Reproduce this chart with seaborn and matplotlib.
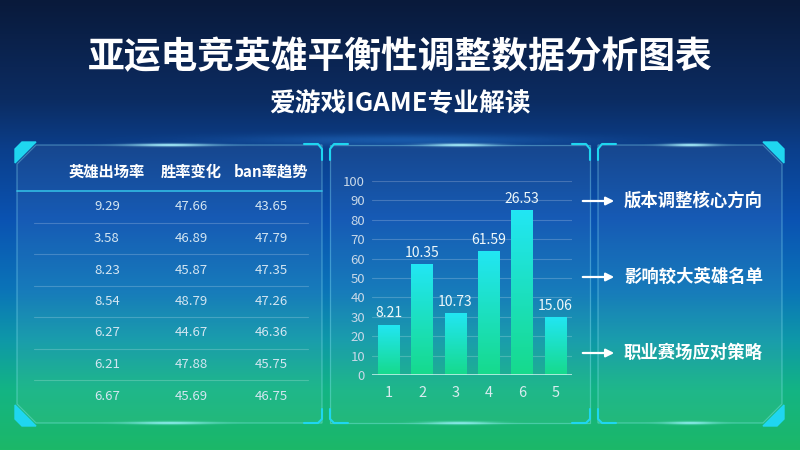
import numpy as np
import matplotlib
matplotlib.use('Agg')
import matplotlib.pyplot as plt
import matplotlib.colors as mcolors
from matplotlib.patches import Polygon
import seaborn as sns

# ---- data ----
title = '亚运电竞英雄平衡性调整数据分析图表'
subtitle = '爱游戏IGAME专业解读'

col_names = ['英雄出场率', '胜率变化', 'ban率趋势']
appear_rate = [9.29, 3.58, 8.23, 8.54, 6.27, 6.21, 6.67]
win_change = [47.66, 46.89, 45.87, 48.79, 44.67, 47.88, 45.69]
ban_trend = [43.65, 47.79, 47.35, 47.26, 46.36, 45.75, 46.75]

bar_cats = ['1', '2', '3', '4', '6', '5']
bar_heights = [26, 57, 32, 64, 85, 30]
bar_labels = ['8.21', '10.35', '10.73', '61.59', '26.53', '15.06']

notes = ['版本调整核心方向', '影响较大英雄名单', '职业赛场应对策略']

sns.set_theme(style='white')
plt.rcParams['font.family'] = ['Noto Sans CJK SC', 'DejaVu Sans']

W, H = 800, 450
fig = plt.figure(figsize=(8, 4.5), dpi=100)
bg = fig.add_axes([0, 0, 1, 1])
bg.set_xlim(0, W)
bg.set_ylim(H, 0)
bg.axis('off')

# background gradient (top navy -> blue -> green)
stops = [(0, '#091a3b'), (100, '#0c2c62'), (150, '#0b3f8c'), (220, '#0a53b2'),
         (290, '#0b74b8'), (340, '#0e98a8'), (390, '#13b484'), (450, '#1cb868')]
ys = np.linspace(0, H, H)
pos = [s[0] for s in stops]
cols = np.array([mcolors.to_rgb(s[1]) for s in stops])
grad = np.stack([np.interp(ys, pos, cols[:, k]) for k in range(3)], axis=-1)[:, None, :]
bg.imshow(grad, extent=(0, W, H, 0), aspect='auto', zorder=0)


def glow(cx, cy, w, h, color='#7fe8ff', alpha=0.8):
    gx = np.linspace(-2.5, 2.5, 200)
    gy = np.linspace(-2.5, 2.5, 60)
    X, Y = np.meshgrid(gx, gy)
    a = np.exp(-(X ** 2 + Y ** 2) * 1.2) * alpha
    rgba = np.zeros((60, 200, 4))
    rgba[..., :3] = mcolors.to_rgb(color)
    rgba[..., 3] = a
    bg.imshow(rgba, extent=(cx - w / 2, cx + w / 2, cy + h / 2, cy - h / 2),
              aspect='auto', zorder=1, interpolation='bilinear')


# faint horizon glow under the subtitle
glow(400, 140, 900, 30, '#3aa0ff', 0.3)

cy_ = '#1fd6f0'
top, bot = 145, 423


def panel(x0, x1, chamfer_left=False, chamfer_right=False):
    c = 19
    pts = []
    if chamfer_left:
        pts += [(x0, bot - c), (x0, top + c), (x0 + c, top)]
    else:
        pts += [(x0, bot), (x0, top)]
    if chamfer_right:
        pts += [(x1 - c, top), (x1, top + c), (x1, bot - c), (x1 - c, bot)]
    else:
        pts += [(x1, top), (x1, bot)]
    if chamfer_left:
        pts += [(x0 + c, bot)]
    bg.add_patch(Polygon(pts, closed=True, facecolor=(1, 1, 1, 0.05),
                         edgecolor=(0.6, 0.95, 1, 0.35), lw=0.9, zorder=2))
    cx = (x0 + x1) / 2
    glow(cx, top, (x1 - x0) * 0.7, 8, '#b0f6ff', 1.0)
    glow(cx, bot, (x1 - x0) * 0.7, 8, '#9ff4ff', 0.85)
    # cyan corner triangles on chamfered sides, brackets on others
    if chamfer_left:
        bg.add_patch(Polygon([(x0 - 2, top + 4), (x0 + 5, top - 3), (x0 + 19, top - 3), (x0 - 2, top + 18)],
                             color=cy_, zorder=3))
        bg.add_patch(Polygon([(x0 - 2, bot - 18), (x0 + 19, bot + 3), (x0 + 5, bot + 3), (x0 - 2, bot - 4)],
                             color=cy_, zorder=3))
    else:
        bg.plot([x0, x0, x0 + 4, x0 + 18], [top + 15, top + 4, top - 1, top - 1], color=cy_, lw=1.5, zorder=3)
        bg.plot([x0, x0, x0 + 4, x0 + 18], [bot - 14, bot - 4, bot, bot], color=cy_, lw=1.5, zorder=3)
    if chamfer_right:
        bg.add_patch(Polygon([(x1 + 2, top + 4), (x1 - 5, top - 3), (x1 - 19, top - 3), (x1 + 2, top + 18)],
                             color=cy_, zorder=3))
        bg.add_patch(Polygon([(x1 + 2, bot - 18), (x1 - 19, bot + 3), (x1 - 5, bot + 3), (x1 + 2, bot - 4)],
                             color=cy_, zorder=3))
    else:
        bg.plot([x1, x1, x1 - 4, x1 - 18], [top + 15, top + 4, top - 1, top - 1], color=cy_, lw=1.5, zorder=3)
        bg.plot([x1, x1, x1 - 4, x1 - 18], [bot - 14, bot - 4, bot, bot], color=cy_, lw=1.5, zorder=3)


panel(17, 322, chamfer_left=True)
panel(330, 590)
panel(598, 782, chamfer_right=True)

# titles
bg.text(400, 58, title, color='white', fontsize=26.5, fontweight='bold', ha='center', va='center', zorder=5)
bg.text(400, 104, subtitle, color='white', fontsize=18.5, fontweight='bold', ha='center', va='center', zorder=5)

# ---- table ----
col_x = [107, 191, 271]
for x, name in zip(col_x, col_names):
    bg.text(x, 172, name, color='white', fontsize=11, fontweight='bold', ha='center', va='center', zorder=5)
bg.plot([17, 322], [191, 191], color='#35c8ea', lw=1.2, alpha=0.9, zorder=4)
rows = list(zip(appear_rate, win_change, ban_trend))
for i, row in enumerate(rows):
    y = 207 + i * 31.5
    for x, v in zip(col_x, row):
        bg.text(x, y, f'{v:.2f}', color='#d4e6f2', fontsize=9.5, ha='center', va='center', zorder=5)
    if i < len(rows) - 1:
        bg.plot([34, 308], [y + 15.5, y + 15.5], color='white', alpha=0.2, lw=0.8, zorder=4)

# ---- bar chart ----
ax = fig.add_axes([372 / W, (H - 375) / H, 200 / W, 194 / H])
ax.set_facecolor('none')
sns.barplot(x=bar_cats, y=bar_heights, order=bar_cats, width=0.64, color=cy_, ax=ax, zorder=3)
ax.set_ylim(0, 100)
ax.set_xlim(-0.5, len(bar_cats) - 0.5)
ax.set_yticks(range(0, 101, 10))
ax.yaxis.grid(True, color='white', alpha=0.2, lw=0.8)
ax.set_axisbelow(True)
for s in ax.spines.values():
    s.set_visible(False)
ax.axhline(0, color='#dff6f6', lw=1.2, alpha=0.85, zorder=4)
ax.tick_params(axis='y', length=0, pad=5, labelsize=9.5, labelcolor='#c8d8e8')
ax.tick_params(axis='x', length=0, pad=8, labelsize=10.5, labelcolor='#d8ecf0')
ax.set_xlabel('')
ax.set_ylabel('')

bar_cmap = mcolors.LinearSegmentedColormap.from_list('bar', ['#16da8c', '#22e6f4'])
gv = np.linspace(0, 1, 100)[:, None]
for p, lab in zip(ax.patches, bar_labels):
    x0, w, h = p.get_x(), p.get_width(), p.get_height()
    p.set_facecolor('none')
    p.set_edgecolor('none')
    im = ax.imshow(gv, cmap=bar_cmap, origin='lower', extent=(x0, x0 + w, 0, h),
                   aspect='auto', zorder=3)
    im.set_clip_path(p)
    ax.annotate(lab, (x0 + w / 2, h), xytext=(0, 3), textcoords='offset points',
                ha='center', va='bottom', color='#eef8fa', fontsize=10, zorder=5)
ax.set_xlim(-0.5, len(bar_cats) - 0.5)
ax.set_ylim(0, 100)

# ---- right notes ----
for i, note in enumerate(notes):
    y = 201 + i * 76
    bg.annotate('', xy=(617, y), xytext=(580, y),
                arrowprops=dict(arrowstyle='-|>', color='white', lw=1.6, mutation_scale=12), zorder=5)
    bg.text(624, y, note, color='white', fontsize=12.5, fontweight='bold', ha='left', va='center', zorder=5)

fig.savefig('out.png', dpi=100)
